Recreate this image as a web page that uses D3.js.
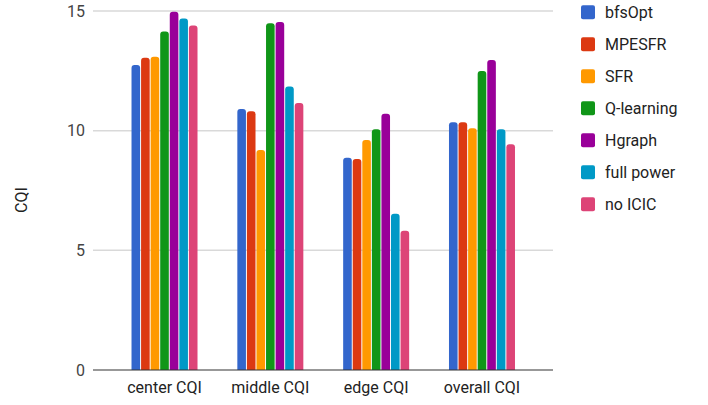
<!DOCTYPE html>
<html><head><meta charset="utf-8">
<script src="https://cdn.jsdelivr.net/npm/d3@7"></script>
<style>body{margin:0;background:#fff;}svg{display:block;font-family:Roboto,"Noto Sans",sans-serif;}</style>
</head><body>
<svg id="c" width="708" height="405"></svg>
<script>
const categories = ["center CQI", "middle CQI", "edge CQI", "overall CQI"];
const seriesNames = ["bfsOpt", "MPESFR", "SFR", "Q-learning", "Hgraph", "full power", "no ICIC"];
const bfsOpt    = [12.74, 10.91, 8.87, 10.35];
const MPESFR    = [13.05, 10.81, 8.82, 10.35];
const SFR       = [13.09, 9.19, 9.61, 10.10];
const Qlearning = [14.14, 14.49, 10.06, 12.49];
const Hgraph    = [14.97, 14.54, 10.71, 12.95];
const fullPower = [14.69, 11.85, 6.53, 10.06];
const noICIC    = [14.39, 11.16, 5.82, 9.43];
const yTicks = [0, 5, 10, 15];
const colors = ["#3366cc", "#dc3912", "#ff9900", "#109618", "#990099", "#0099c6", "#dd4477"];

const seriesValues = [bfsOpt, MPESFR, SFR, Qlearning, Hgraph, fullPower, noICIC];
const svg = d3.select("#c");
const plotL = 93, plotR = 553, plotT = 11, plotB = 370;

const y = d3.scaleLinear().domain([0, 15]).range([plotB, plotT]);
const x0 = d3.scaleBand().domain(categories).range([111.6, 534.9]).paddingInner(0).paddingOuter(0);
const groupW = 66;
const x1 = d3.scaleBand().domain(seriesNames).range([0, groupW]).paddingInner(0.1).paddingOuter(0);

// gridlines
svg.append("g").selectAll("line").data(yTicks.filter(d => d > 0)).join("line")
  .attr("x1", plotL).attr("x2", plotR)
  .attr("y1", d => y(d)).attr("y2", d => y(d))
  .attr("stroke", "#d9d9d9").attr("stroke-width", 1.5);

// y tick labels
svg.append("g").selectAll("text").data(yTicks).join("text")
  .attr("x", 85).attr("y", d => y(d)).attr("dy", "0.36em")
  .attr("text-anchor", "end").attr("font-size", 16).attr("fill", "#444")
  .text(d => d);

// axis title
svg.append("text").attr("transform", "translate(27,200) rotate(-90)")
  .attr("text-anchor", "middle").attr("font-size", 16).attr("fill", "#222").text("CQI");

function barPath(x, w, y0, y1, r) {
  r = Math.min(r, w / 2, (y0 - y1));
  return `M${x},${y0}V${y1 + r}Q${x},${y1} ${x + r},${y1}H${x + w - r}Q${x + w},${y1} ${x + w},${y1 + r}V${y0}Z`;
}

// bars
const groups = svg.append("g").selectAll("g").data(categories).join("g")
  .attr("transform", c => `translate(${x0(c) + (x0.bandwidth() - groupW) / 2},0)`);
groups.selectAll("path").data((c, ci) => seriesNames.map((s, si) => ({s, si, v: seriesValues[si][ci]}))).join("path")
  .attr("d", d => barPath(x1(d.s), x1.bandwidth(), y(0), y(d.v), 3))
  .attr("fill", d => colors[d.si]);

// baseline
svg.append("line").attr("x1", plotL).attr("x2", plotR).attr("y1", y(0)).attr("y2", y(0))
  .attr("stroke", "#333").attr("stroke-width", 1.2);

// x labels
svg.append("g").selectAll("text").data(categories).join("text")
  .attr("x", c => x0(c) + x0.bandwidth() / 2).attr("y", 393)
  .attr("text-anchor", "middle").attr("font-size", 16).attr("fill", "#222").text(c => c);

// legend
const leg = svg.append("g").selectAll("g").data(seriesNames).join("g")
  .attr("transform", (s, i) => `translate(581,${12.3 + i * 32})`);
leg.append("rect").attr("x", 0).attr("y", -7).attr("width", 14).attr("height", 14).attr("rx", 2)
  .attr("fill", (s, i) => colors[i]);
leg.append("text").attr("x", 24).attr("y", 0).attr("dy", "0.36em")
  .attr("font-size", 16).attr("fill", "#222").text(s => s);
</script>
</body></html>
